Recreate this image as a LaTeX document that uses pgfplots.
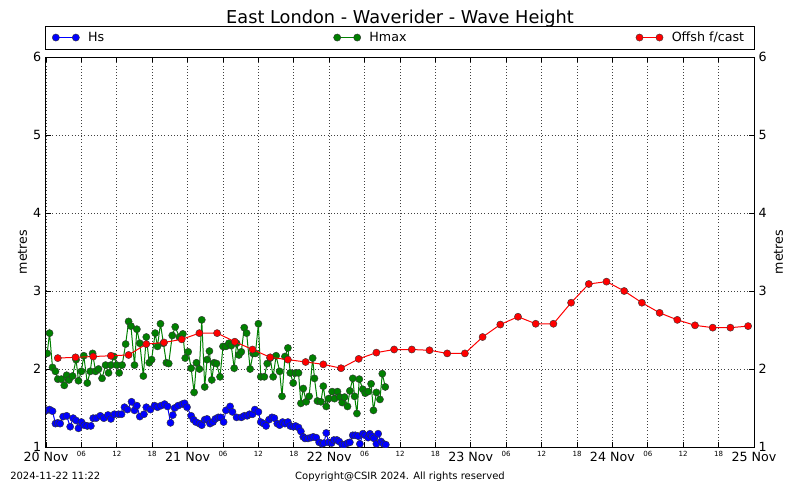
\documentclass[border=0pt]{standalone}
\usepackage{fontspec}
\setmainfont{DejaVu Sans}
\usepackage{pgfplots}
\pgfplotsset{compat=1.18}

\definecolor{hsblue}{RGB}{0,0,255}
\definecolor{hmaxgreen}{RGB}{0,128,0}
\definecolor{fcred}{RGB}{255,0,0}

% day labels large, hour labels small
\newcommand{\dayl}[1]{{\fontsize{9.5}{11}\selectfont #1}}
\newcommand{\hrl}[1]{{\fontsize{5.3}{6}\selectfont #1}}

\begin{document}
\begin{tikzpicture}
\path[use as bounding box] (-34.5pt,-24.75pt) rectangle (565.5pt,335.25pt);
\begin{axis}[
    at={(0,0)}, anchor=south west,
    width=531pt, height=292.5pt, scale only axis,
    xmin=0, xmax=120, ymin=1, ymax=6,
    xtick={0,6,...,120},
    xticklabels={\dayl{20 Nov},\hrl{06},\hrl{12},\hrl{18},
                 \dayl{21 Nov},\hrl{06},\hrl{12},\hrl{18},
                 \dayl{22 Nov},\hrl{06},\hrl{12},\hrl{18},
                 \dayl{23 Nov},\hrl{06},\hrl{12},\hrl{18},
                 \dayl{24 Nov},\hrl{06},\hrl{12},\hrl{18},
                 \dayl{25 Nov}},
    ytick={1,...,6},
    /pgf/number format/assume math mode=true,
    tick label style={font=\fontsize{9.5}{11}\selectfont},
    ylabel={metres},
    label style={font=\fontsize{9.5}{11}\selectfont},
    ylabel style={xshift=0pt, yshift=-2.2pt},
    axis line style={line width=0.75pt},
    tick style={black, line width=0.5pt},
    major tick length=3.5pt,
    tick align=inside,
    grid=major,
    major grid style={dotted, black!75, line width=0.5pt},
    clip marker paths=true,
    title={East London - Waverider - Wave Height},
    title style={at={(0.5,1)}, anchor=base, yshift=19.5pt,
                 font=\fontsize{13.3}{15}\selectfont},
    legend columns=3,
    legend style={draw=none, fill=none, at={(0,1)}, anchor=west,
                  xshift=1.5pt, yshift=14.6pt,
                  font=\fontsize{9.5}{11}\selectfont,
                  column sep=4.5pt,
                  /tikz/column 2/.style={column sep=170pt},
                  /tikz/column 4/.style={column sep=170pt}},
    legend image code/.code={\draw[#1] plot coordinates {(0pt,0pt) (15pt,0pt)};},
    every axis plot/.append style={line width=0.75pt, mark=*, mark size=2.7pt},
    after end axis/.code={
        \draw[line width=0.75pt] ([yshift=6pt]axis description cs:0,1) rectangle ([yshift=23.25pt]axis description cs:1,1);
        \node[anchor=base west, font=\fontsize{7.5}{9}\selectfont, inner sep=0pt]
            at ([xshift=-27pt,yshift=-24.4pt]axis description cs:0,0) {2024-11-22 11:22};
        \node[anchor=base, font=\fontsize{7.5}{9}\selectfont, inner sep=0pt]
            at ([yshift=-24.4pt]axis description cs:0.5,0) {Copyright@CSIR 2024. All rights reserved};
    },
]
\addplot[color=hsblue, mark options={fill=hsblue, draw=black!80, line width=0.3pt}] coordinates {
(0.1,1.47)(0.6,1.48)(1.1,1.46)(1.6,1.30)(2.0,1.31)(2.4,1.30)(2.9,1.39)(3.5,1.40)
(4.1,1.26)(4.6,1.37)(5.1,1.34)(5.5,1.24)(6.0,1.32)(6.5,1.28)(7.0,1.27)(7.6,1.27)
(8.0,1.37)(8.5,1.37)(9.2,1.40)(9.8,1.37)(10.5,1.41)(11.0,1.36)(11.6,1.42)(12.3,1.42)
(12.8,1.42)(13.3,1.51)(13.8,1.48)(14.5,1.58)(15.0,1.47)(15.4,1.53)(15.9,1.39)(16.6,1.42)
(17.0,1.51)(17.7,1.48)(18.4,1.53)(18.9,1.51)(19.5,1.53)(20.1,1.55)(20.6,1.52)(21.1,1.31)
(21.5,1.41)(21.8,1.50)(22.4,1.53)(23.1,1.55)(23.5,1.56)(23.9,1.51)(24.6,1.40)(25.0,1.35)
(25.4,1.32)(26.0,1.30)(26.4,1.28)(26.9,1.35)(27.3,1.36)(27.8,1.30)(28.3,1.32)(28.7,1.36)
(29.2,1.38)(29.6,1.38)(30.1,1.32)(30.5,1.47)(31.2,1.52)(31.6,1.45)(32.3,1.38)(33.1,1.38)
(33.6,1.40)(34.1,1.40)(34.5,1.42)(35.0,1.42)(35.4,1.48)(36.0,1.45)(36.4,1.32)(36.9,1.30)
(37.3,1.27)(37.8,1.35)(38.3,1.38)(38.7,1.37)(39.2,1.30)(39.6,1.28)(40.1,1.32)(40.5,1.30)
(41.0,1.32)(41.4,1.27)(41.9,1.26)(42.3,1.27)(42.8,1.25)(43.2,1.20)(43.6,1.13)(43.9,1.11)
(44.4,1.11)(44.9,1.12)(45.3,1.13)(45.8,1.12)(46.3,1.06)(46.8,1.04)(47.1,1.05)(47.5,1.18)
(47.9,1.06)(48.4,1.05)(48.8,1.09)(49.3,1.09)(49.7,1.07)(50.2,1.03)(50.6,1.03)(51.1,1.05)
(51.5,1.06)(52.0,1.15)(52.4,1.15)(52.9,1.14)(53.2,1.04)(53.7,1.17)(54.1,1.15)(54.6,1.12)
(54.9,1.17)(55.2,1.14)(55.6,1.11)(56.0,1.04)(56.3,1.17)(56.8,1.07)(57.2,1.04)(57.6,1.03)
};
\addlegendentry{Hs}
\addplot[color=hmaxgreen, mark options={fill=hmaxgreen, draw=black!80, line width=0.3pt}] coordinates {
(0.2,2.20)(0.6,2.46)(1.1,2.02)(1.6,1.97)(2.0,1.87)(2.6,1.87)(3.1,1.79)(3.5,1.92)
(3.9,1.86)(4.5,1.91)(5.1,2.12)(5.5,1.85)(6.0,1.97)(6.4,2.17)(7.0,1.82)(7.5,1.97)
(7.9,2.20)(8.4,1.97)(8.9,2.00)(9.5,1.88)(10.1,2.05)(10.6,1.95)(11.0,2.05)(11.5,2.16)
(12.0,2.05)(12.4,1.95)(12.9,2.05)(13.5,2.32)(14.0,2.61)(14.4,2.55)(15.0,2.05)(15.4,2.51)
(15.9,2.33)(16.5,1.91)(17.0,2.41)(17.5,2.08)(17.9,2.12)(18.5,2.46)(18.9,2.29)(19.4,2.58)
(19.9,2.33)(20.4,2.08)(20.8,2.07)(21.4,2.43)(21.9,2.54)(22.6,2.41)(23.2,2.45)(23.6,2.14)
(24.1,2.22)(24.6,2.01)(25.1,1.70)(25.5,2.08)(26.0,2.00)(26.4,2.63)(26.9,1.77)(27.3,2.12)
(27.7,2.23)(28.1,1.86)(28.5,2.08)(28.9,2.07)(29.5,1.90)(30.0,2.29)(30.5,2.29)(31.0,2.33)
(31.4,2.30)(31.9,2.01)(32.3,2.33)(32.7,2.18)(33.1,2.22)(33.6,2.53)(34.0,2.46)(34.6,2.00)
(35.1,2.20)(35.5,2.20)(36.0,2.58)(36.4,1.90)(37.0,1.90)(37.5,2.07)(38.0,2.14)(38.5,1.90)
(39.0,2.17)(39.6,1.97)(40.0,1.65)(40.5,2.16)(41.0,2.27)(41.4,1.95)(41.9,1.82)(42.3,1.95)
(42.8,1.95)(43.2,1.56)(43.6,1.75)(44.1,1.58)(44.6,1.65)(45.2,2.14)(45.5,1.88)(46.0,1.59)
(46.6,1.58)(47.0,1.78)(47.5,1.52)(47.9,1.62)(48.5,1.71)(48.9,1.62)(49.4,1.71)(49.8,1.64)
(50.2,1.57)(50.6,1.64)(51.1,1.52)(51.5,1.72)(52.0,1.88)(52.3,1.65)(52.7,1.43)(53.1,1.87)
(53.7,1.74)(54.1,1.69)(54.6,1.71)(55.1,1.81)(55.5,1.47)(56.0,1.70)(56.6,1.61)(57.0,1.94)
(57.5,1.77)
};
\addlegendentry{Hmax}
\addplot[color=fcred, mark options={fill=fcred, draw=black!80, line width=0.3pt}] coordinates {
(2,2.14)(5,2.15)(8,2.16)(11,2.17)(14,2.18)(17,2.32)(20,2.34)(23,2.38)
(26,2.46)(29,2.46)(32,2.35)(35,2.25)(38,2.15)(41,2.12)(44,2.09)(47,2.06)
(50,2.01)(53,2.13)(56,2.21)(59,2.25)(62,2.25)(65,2.24)(68,2.20)(71,2.20)
(74,2.41)(77,2.57)(80,2.67)(83,2.58)(86,2.58)(89,2.85)(92,3.09)(95,3.12)
(98,3.00)(101,2.85)(104,2.72)(107,2.63)(110,2.56)(113,2.53)(116,2.53)(119,2.55)
};
\addlegendentry{Offsh f/cast}
\end{axis}
\begin{axis}[
    at={(0,0)}, anchor=south west,
    width=531pt, height=292.5pt, scale only axis,
    xmin=0, xmax=120, ymin=1, ymax=6,
    axis x line=none, axis y line*=right,
    ytick={1,...,6},
    /pgf/number format/assume math mode=true,
    tick label style={font=\fontsize{9.5}{11}\selectfont},
    ylabel={metres},
    label style={font=\fontsize{9.5}{11}\selectfont},
    ylabel style={yshift=1.5pt},
    axis line style={line width=0.75pt},
    tick style={black, line width=0.5pt},
    major tick length=3.5pt,
    tick align=inside,
]
\end{axis}
\end{tikzpicture}
\end{document}
